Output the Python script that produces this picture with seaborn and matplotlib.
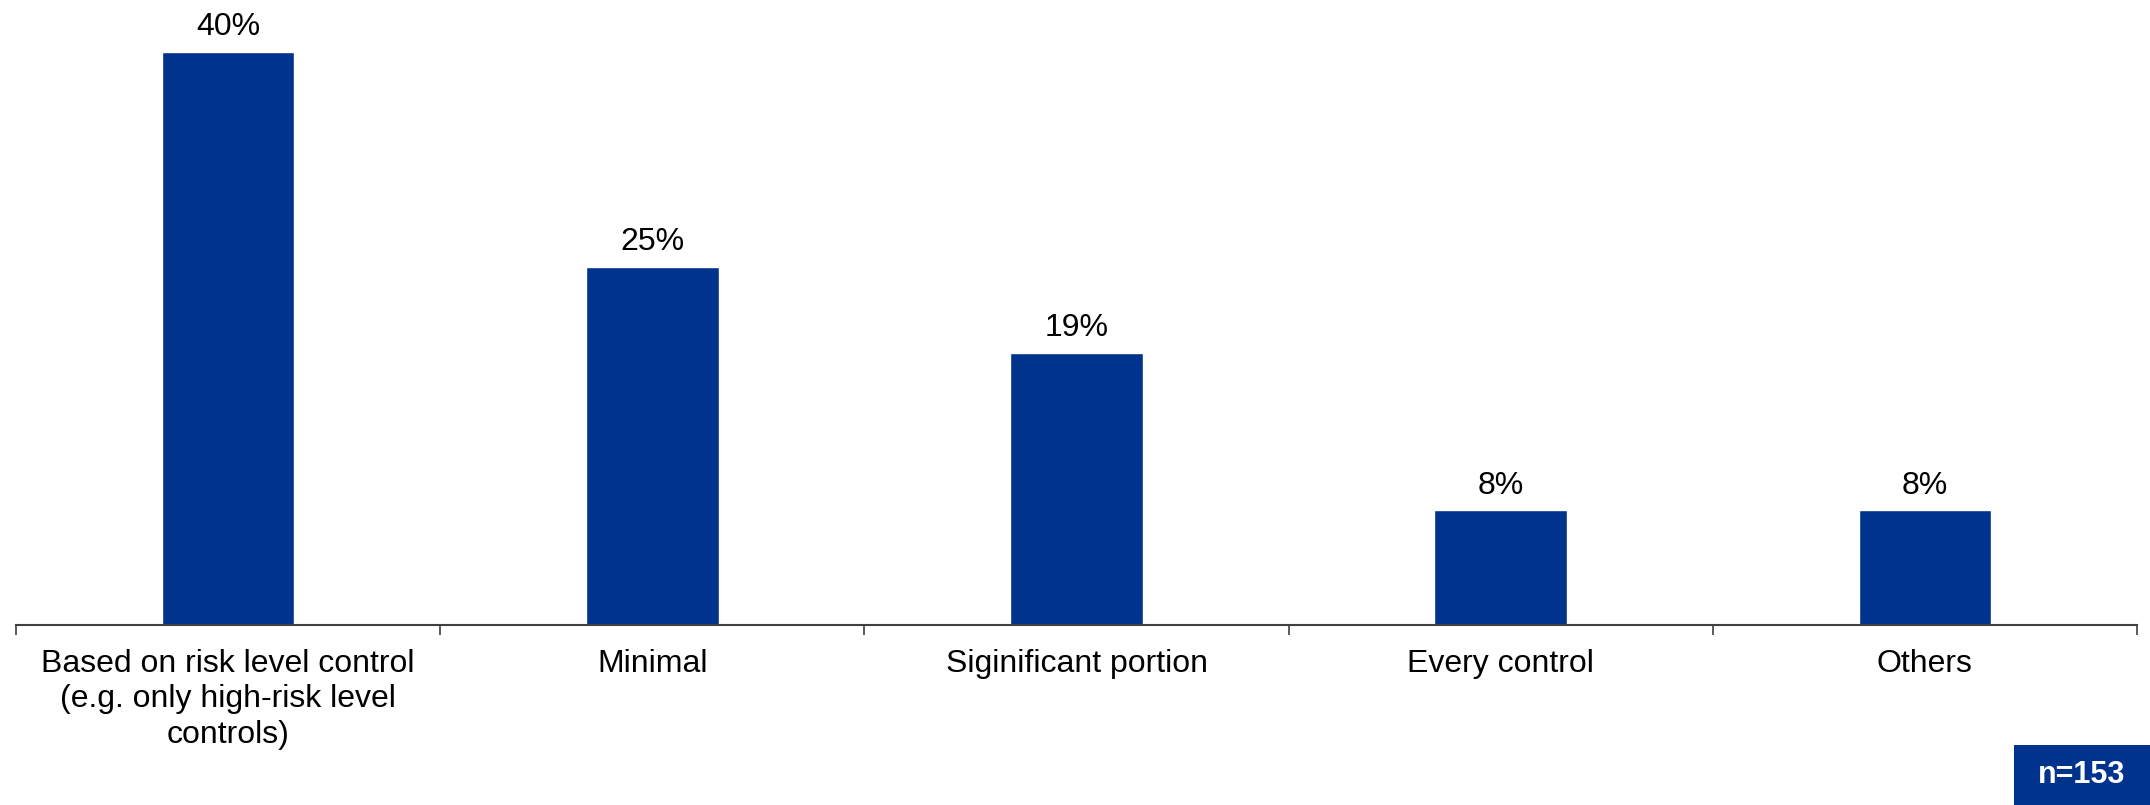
import pandas as pd
import matplotlib
matplotlib.use('Agg')
import matplotlib.pyplot as plt
from matplotlib.patches import Rectangle
import seaborn as sns

categories = ['Based on risk level control\n(e.g. only high-risk level\ncontrols)',
              'Minimal', 'Siginificant portion', 'Every control', 'Others']
values = [40, 25, 19, 8, 8]
labels = ['40%', '25%', '19%', '8%', '8%']
sample_note = 'n=153'

bar_color = '#00338D'

sns.set_style('white')
plt.rcParams['font.family'] = ['Liberation Sans', 'DejaVu Sans']

df = pd.DataFrame({'category': categories, 'value': values})

fig = plt.figure(figsize=(21.5, 8.05), dpi=100)
ax = fig.add_axes([16 / 2150, 180 / 805, 2121 / 2150, 573 / 805])

sns.barplot(data=df, x='category', y='value', color=bar_color, saturation=1,
            width=0.313, ax=ax)

ax.set_xlim(-0.5, len(categories) - 0.5)
ax.set_ylim(0, 40)

for i, (v, lab) in enumerate(zip(values, labels)):
    ax.annotate(lab, (i, v), xytext=(0, 7), textcoords='offset points',
                ha='center', va='bottom', fontsize=23, color='black',
                annotation_clip=False)

for side in ['left', 'top', 'right']:
    ax.spines[side].set_visible(False)
ax.spines['bottom'].set_color('#404040')
ax.spines['bottom'].set_linewidth(1.5)

ax.set_yticks([])
ax.set_xlabel('')
ax.set_ylabel('')
ax.tick_params(axis='x', which='major', length=0, pad=17, labelsize=23, labelcolor='black')
for t in ax.get_xticklabels():
    t.set_linespacing(1.25)
ax.set_xticks([i - 0.5 for i in range(len(categories) + 1)], minor=True)
ax.tick_params(axis='x', which='minor', length=7, width=1.2, color='#404040', direction='out')
ax.tick_params(axis='x', which='minor', bottom=True)

fig.patches.append(Rectangle((2014 / 2150, 0), 136 / 2150, 60 / 805,
                             transform=fig.transFigure, facecolor=bar_color,
                             edgecolor='none'))
fig.text(2082 / 2150, 30 / 805, sample_note, ha='center', va='center',
         fontsize=22, fontweight='bold', color='white')

fig.savefig('out.png', dpi=100)
